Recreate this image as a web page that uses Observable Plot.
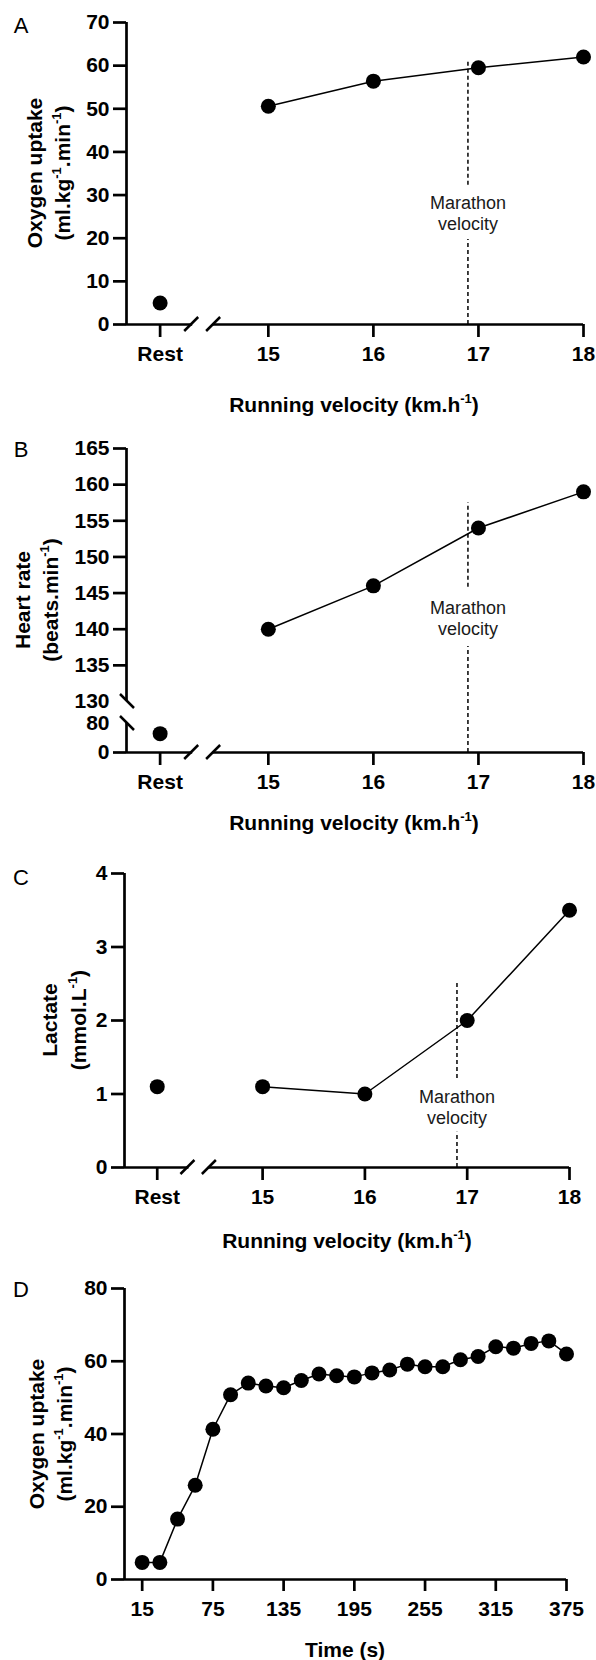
<!DOCTYPE html>
<html>
<head>
<meta charset="utf-8">
<script src="https://cdn.jsdelivr.net/npm/d3@7"></script>
<script src="https://cdn.jsdelivr.net/npm/@observablehq/plot@0.6"></script>
<style>
  body { margin: 0; background: #fff; }
  #chart { width: 596px; }
  #chart svg { display: block; overflow: visible; }
</style>
</head>
<body>
<div id="chart"></div>
<script>
// ---------- data ----------
const velocities = [15, 16, 17, 18];
const restLabel = "Rest";
const vo2Rest = 5;
const vo2ByVelocity = [50.6, 56.4, 59.5, 62.0];
const hrRest = 52;
const hrByVelocity = [140, 146, 154, 159];
const lactateRest = 1.1;
const lactateByVelocity = [1.1, 1.0, 2.0, 3.5];
const marathonVelocity = 16.9;
const marathonText = "Marathon\nvelocity";

const timeSeconds = [15, 30, 45, 60, 75, 90, 105, 120, 135, 150, 165, 180, 195,
  210, 225, 240, 255, 270, 285, 300, 315, 330, 345, 360, 375];
const vo2ByTime = [4.7, 4.7, 16.6, 25.9, 41.3, 50.8, 54.0, 53.2, 52.7, 54.7, 56.5, 56.0, 55.7,
  56.8, 57.6, 59.2, 58.5, 58.5, 60.4, 61.3, 64.0, 63.6, 64.9, 65.6, 62.0];
const timeTicks = [15, 75, 135, 195, 255, 315, 375];

const vo2Ticks = [0, 10, 20, 30, 40, 50, 60, 70];
const hrTicksMarked = [0, 135, 140, 145, 150, 155, 160, 165];
const hrTicksBreak = [80, 130];
const lactateTicks = [0, 1, 2, 3, 4];
const vo2TimeTicks = [0, 20, 40, 60, 80];

// ---------- layout constants (positions on the broken velocity axis) ----------
const restPos = 13.97;
const xStart = 13.65;
const breakA = 14.28, breakB = 14.47;

const FONT = "'Liberation Sans', Arial, Helvetica, sans-serif";
const AXW = 2.7;
const TICK = { fontSize: 21, fontWeight: "bold", fontFamily: FONT, strokeWidth: AXW, label: null, tickFormat: d => String(d) };

function velocityMarks(rest, vals, marathon) {
  const pts = [{ v: restPos, y: rest }, ...velocities.map((v, i) => ({ v, y: vals[i] }))];
  const run = pts.slice(1);
  return [
    Plot.ruleX([marathonVelocity], { y1: marathon.lo[0], y2: marathon.lo[1], stroke: "#111", strokeWidth: 1.6, strokeDasharray: "4,3" }),
    Plot.ruleX([marathonVelocity], { y1: marathon.hi[0], y2: marathon.hi[1], stroke: "#111", strokeWidth: 1.6, strokeDasharray: "4,3" }),
    Plot.text([marathonVelocity], { x: d => d, y: () => marathon.textY, text: () => marathonText, fontSize: 18, lineHeight: 1.17, fill: "#1a1a1a", fontFamily: FONT }),
    Plot.ruleY([0], { x1: xStart, x2: breakA, stroke: "black", strokeWidth: AXW }),
    Plot.ruleY([0], { x1: breakB, x2: 18, stroke: "black", strokeWidth: AXW }),
    Plot.line(run, { x: "v", y: "y", stroke: "black", strokeWidth: 1.5 }),
    Plot.dot(pts, { x: "v", y: "y", r: 7.5, fill: "black", stroke: "none" }),
    Plot.axisX({ ...TICK, ticks: [restPos, ...velocities], tickSize: 13, tickPadding: 9,
      tickFormat: d => d === restPos ? restLabel : String(d) })
  ];
}

function addText(svg, { x, y, parts, size = 21, weight = "bold", rotate = false, anchor = "middle" }) {
  const t = d3.select(svg).append("text")
    .attr("font-family", FONT).attr("font-size", size).attr("font-weight", weight)
    .attr("fill", "black").attr("text-anchor", anchor)
    .attr("transform", rotate ? `translate(${x},${y}) rotate(-90)` : `translate(${x},${y})`);
  let pending = 0;
  for (const p of parts) {
    if (typeof p === "string") {
      const s = t.append("tspan").text(p);
      if (pending) s.attr("dy", pending);
      pending = 0;
    } else {
      t.append("tspan").attr("font-size", size * 0.62).attr("dy", -size * 0.42).text(p.sup);
      pending = size * 0.42;
    }
  }
}

function addSlash(svg, cx, cy, dir) {
  // dir = 1: "/"  ; dir = -1: "\"
  const h = 7;
  d3.select(svg).append("line")
    .attr("x1", cx - h).attr("y1", cy + h * dir)
    .attr("x2", cx + h).attr("y2", cy - h * dir)
    .attr("stroke", "black").attr("stroke-width", 2.5);
}

function xBreaks(svg) {
  const x = svg.scale("x"), y = svg.scale("y");
  addSlash(svg, x.apply(breakA) - 1, y.apply(0), 1);
  addSlash(svg, x.apply(breakB) + 1, y.apply(0), 1);
}

const root = document.getElementById("chart");

// ---------- Panel A ----------
{
  const svg = Plot.plot({
    width: 596, height: 420, marginTop: 22, marginBottom: 96, marginLeft: 126, marginRight: 13,
    style: { fontFamily: FONT, background: "white", overflow: "visible" },
    x: { domain: [xStart, 18], axis: null },
    y: { domain: [0, 70], axis: null },
    marks: [
      Plot.ruleX([xStart], { y1: 0, y2: 70, stroke: "black", strokeWidth: AXW }),
      ...velocityMarks(vo2Rest, vo2ByVelocity, { lo: [0, 19.7], hi: [32.3, 60.8], textY: 26 }),
      Plot.axisY({ ...TICK, ticks: vo2Ticks, tickSize: 13, tickPadding: 4 })
    ]
  });
  root.appendChild(svg);
  xBreaks(svg);
  addText(svg, { x: 21, y: 33, parts: ["A"], size: 22, weight: "normal" });
  addText(svg, { x: 42, y: 173, parts: ["Oxygen uptake"], rotate: true });
  addText(svg, { x: 70, y: 173, parts: ["(ml.kg", { sup: "-1" }, ".min", { sup: "-1" }, ")"], rotate: true });
  addText(svg, { x: 354, y: 412, parts: ["Running velocity (km.h", { sup: "-1" }, ")"] });
}

// ---------- Panel B ----------
{
  const svg = Plot.plot({
    width: 596, height: 420, marginTop: 28, marginBottom: 88, marginLeft: 126, marginRight: 13,
    style: { fontFamily: FONT, background: "white", overflow: "visible" },
    x: { domain: [xStart, 18], axis: null },
    y: { type: "linear", domain: [0, 80, 130, 165], range: [332, 303, 281, 28], axis: null },
    marks: [
      Plot.ruleX([xStart], { y1: 0, y2: 80, stroke: "black", strokeWidth: AXW }),
      Plot.ruleX([xStart], { y1: 130, y2: 165, stroke: "black", strokeWidth: AXW }),
      ...velocityMarks(hrRest, hrByVelocity, { lo: [0, 137.6], hi: [145.8, 157.5], textY: 141.6 }),
      Plot.axisY({ ...TICK, ticks: hrTicksMarked, tickSize: 13, tickPadding: 4 }),
      Plot.axisY({ ...TICK, ticks: hrTicksBreak, tickSize: 0, tickPadding: 17 })
    ]
  });
  root.appendChild(svg);
  xBreaks(svg);
  const x = svg.scale("x"), y = svg.scale("y");
  addSlash(svg, x.apply(xStart) + 1, y.apply(130), -1);
  addSlash(svg, x.apply(xStart) + 1, y.apply(80), -1);
  addText(svg, { x: 21, y: 37, parts: ["B"], size: 22, weight: "normal" });
  addText(svg, { x: 30, y: 180, parts: ["Heart rate"], rotate: true });
  addText(svg, { x: 58, y: 180, parts: ["(beats.min", { sup: "-1" }, ")"], rotate: true });
  addText(svg, { x: 354, y: 410, parts: ["Running velocity (km.h", { sup: "-1" }, ")"] });
}

// ---------- Panel C ----------
{
  const svg = Plot.plot({
    width: 596, height: 410, marginTop: 33, marginBottom: 83, marginLeft: 124, marginRight: 27,
    style: { fontFamily: FONT, background: "white", overflow: "visible" },
    x: { domain: [xStart, 18], axis: null },
    y: { domain: [0, 4], axis: null },
    marks: [
      Plot.ruleX([xStart], { y1: 0, y2: 4, stroke: "black", strokeWidth: AXW }),
      ...velocityMarks(lactateRest, lactateByVelocity, { lo: [0, 0.48], hi: [1.21, 2.52], textY: 0.83 }),
      Plot.axisY({ ...TICK, ticks: lactateTicks, tickSize: 13, tickPadding: 4 })
    ]
  });
  root.appendChild(svg);
  xBreaks(svg);
  addText(svg, { x: 21, y: 45, parts: ["C"], size: 22, weight: "normal" });
  addText(svg, { x: 57, y: 180, parts: ["Lactate"], rotate: true });
  addText(svg, { x: 86, y: 180, parts: ["(mmol.L", { sup: "-1" }, ")"], rotate: true });
  addText(svg, { x: 347, y: 408, parts: ["Running velocity (km.h", { sup: "-1" }, ")"] });
}

// ---------- Panel D ----------
{
  const pts = timeSeconds.map((t, i) => ({ t, v: vo2ByTime[i] }));
  const svg = Plot.plot({
    width: 596, height: 410, marginTop: 38, marginBottom: 81, marginLeft: 124, marginRight: 30,
    style: { fontFamily: FONT, background: "white", overflow: "visible" },
    x: { domain: [0, 375], axis: null },
    y: { domain: [0, 80], axis: null },
    marks: [
      Plot.ruleX([0], { y1: 0, y2: 80, stroke: "black", strokeWidth: AXW }),
      Plot.ruleY([0], { x1: 0, x2: 375, stroke: "black", strokeWidth: AXW }),
      Plot.line(pts, { x: "t", y: "v", stroke: "black", strokeWidth: 1.5 }),
      Plot.dot(pts, { x: "t", y: "v", r: 7.5, fill: "black", stroke: "none" }),
      Plot.axisX({ ...TICK, ticks: timeTicks, tickSize: 12, tickPadding: 10 }),
      Plot.axisY({ ...TICK, ticks: vo2TimeTicks, tickSize: 13, tickPadding: 4 })
    ]
  });
  root.appendChild(svg);
  addText(svg, { x: 21, y: 47, parts: ["D"], size: 22, weight: "normal" });
  addText(svg, { x: 44, y: 184, parts: ["Oxygen uptake"], rotate: true });
  addText(svg, { x: 72, y: 184, parts: ["(ml.kg", { sup: "-1" }, ".min", { sup: "-1" }, ")"], rotate: true });
  addText(svg, { x: 345, y: 407, parts: ["Time (s)"] });
}
</script>
</body>
</html>
